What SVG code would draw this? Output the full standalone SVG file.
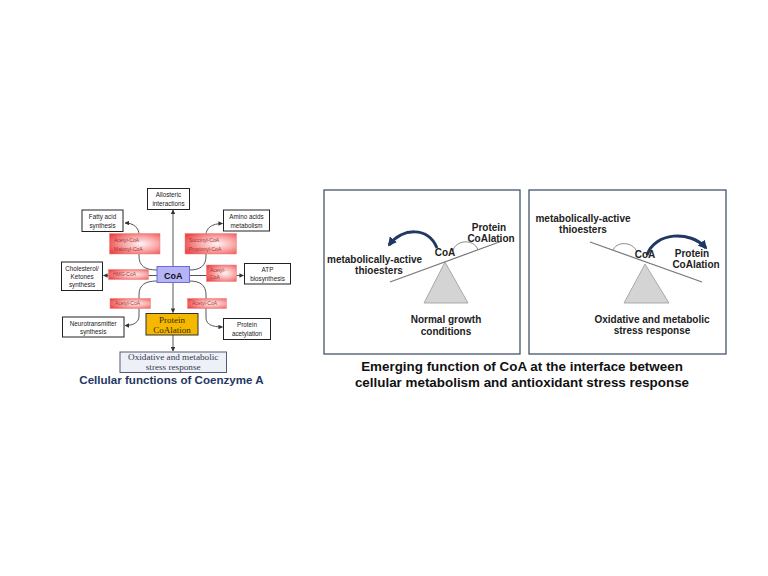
<svg xmlns="http://www.w3.org/2000/svg" width="768" height="576" viewBox="0 0 768 576">
<defs>
<radialGradient id="redg" cx="0.62" cy="0.5" r="0.7">
<stop offset="0" stop-color="#fff4f4"/>
<stop offset="0.5" stop-color="#f9a4a4"/>
<stop offset="1" stop-color="#ee4646"/>
</radialGradient>
<marker id="ah" viewBox="0 0 10 10" refX="9" refY="5" markerWidth="5" markerHeight="5" orient="auto-start-reverse">
<path d="M0,0 L10,5 L0,10 z" fill="#333"/>
</marker>
<marker id="bh" viewBox="0 0 10 10" refX="8" refY="5" markerWidth="3" markerHeight="3" orient="auto">
<path d="M0,0 L10,5 L0,10 z" fill="#1f3864"/>
</marker>
</defs>
<style>
.wb{fill:#fff;stroke:#222;stroke-width:1}
.wt{font-family:"Liberation Sans",Arial,sans-serif;font-size:6.3px;fill:#222;text-anchor:middle}
.rb{fill:url(#redg);stroke:#f08080;stroke-width:0.5}
.rt{font-family:"Liberation Sans",Arial,sans-serif;font-size:5px;fill:#a03838}
.ln{fill:none;stroke:#444;stroke-width:0.9}
.pan{fill:#fff;stroke:#44546a;stroke-width:1.3}
.pt{font-family:"Liberation Sans",Arial,sans-serif;font-size:10px;font-weight:bold;fill:#222}
.ptc{font-family:"Liberation Sans",Arial,sans-serif;font-size:10px;font-weight:bold;fill:#222;text-anchor:middle}
.beam{stroke:#777;stroke-width:1.2}
.tri{fill:#d4d4d4;stroke:#999;stroke-width:0.8}
.garc{fill:none;stroke:#888;stroke-width:1}
.barc{fill:none;stroke:#1f3864;stroke-width:3}
.title{font-family:"Liberation Sans",Arial,sans-serif;font-size:13.4px;font-weight:bold;fill:#111;text-anchor:middle}
.sr{font-family:"Liberation Serif","Times New Roman",serif;text-anchor:middle}
</style>
<rect width="768" height="576" fill="#fff"/>

<!-- Connectors (left diagram) -->
<g id="connectors">
<line class="ln" x1="173" y1="266.5" x2="173" y2="210" marker-end="url(#ah)"/>
<line class="ln" x1="173" y1="282.5" x2="173" y2="312.5" marker-end="url(#ah)"/>
<line class="ln" x1="173" y1="335" x2="173" y2="351" marker-end="url(#ah)"/>
<path class="ln" d="M157,270 C145,270 139,266 139,256 L139,235 C139,228 134,223 125,223" marker-end="url(#ah)"/>
<path class="ln" d="M189.5,270 C200,270 206,266 206,256 L206,235 C206,228 212,223.5 222.5,223.5" marker-end="url(#ah)"/>
<line class="ln" x1="157" y1="275.5" x2="103.5" y2="275.5" marker-end="url(#ah)"/>
<line class="ln" x1="189.5" y1="275.5" x2="243.5" y2="275.5" marker-end="url(#ah)"/>
<path class="ln" d="M157,281 C145,281 139,285 139,295 L139,316 C139,322 134,325.5 125,325.5" marker-end="url(#ah)"/>
<path class="ln" d="M189.5,281 C200,281 206,285 206,295 L206,318 C206,324 212,327 222.5,327" marker-end="url(#ah)"/>
</g>

<g id="allosteric"><rect class="wb" x="147.5" y="188.5" width="42" height="21"/><text class="wt" x="168.5" y="197">Allosteric</text><text class="wt" x="168.5" y="205.5">interactions</text></g>
<g id="fatty"><rect class="wb" x="82" y="210" width="41" height="21.5"/><text class="wt" x="102.5" y="219">Fatty acid</text><text class="wt" x="102.5" y="227.5">synthesis</text></g>
<g id="amino"><rect class="wb" x="223.5" y="210" width="46" height="21"/><text class="wt" x="246.5" y="219">Amino acids</text><text class="wt" x="246.5" y="227.5">metabolism</text></g>
<g id="acmal"><rect class="rb" x="109.5" y="233.5" width="50.5" height="20.5"/><text class="rt" x="114" y="242">Acetyl-CoA</text><text class="rt" x="114" y="250.5">Malonyl-CoA</text></g>
<g id="sucprop"><rect class="rb" x="185" y="233.5" width="51.5" height="20.5"/><text class="rt" x="189" y="242">Succinyl-CoA</text><text class="rt" x="189" y="250.5">Propionyl-CoA</text></g>
<g id="chol"><rect class="wb" x="61.5" y="262" width="41" height="28.5"/><text class="wt" x="82" y="270.5">Cholesterol/</text><text class="wt" x="82" y="278.5">Ketones</text><text class="wt" x="82" y="286.5">synthesis</text></g>
<g id="hmg"><rect class="rb" x="108.5" y="269.5" width="40" height="10"/><text class="rt" x="113" y="276.3">HMG-CoA</text></g>
<g id="coa"><rect x="157" y="266.5" width="32.5" height="16" fill="#b4b4f6" stroke="#6a6ade" stroke-width="1"/><text x="173.2" y="278.5" font-family="Liberation Sans,Arial,sans-serif" font-size="9" font-weight="bold" text-anchor="middle" fill="#111">CoA</text></g>
<g id="acatp"><rect class="rb" x="206.5" y="265" width="30" height="16.5"/><text class="rt" x="210" y="272">Acetyl-</text><text class="rt" x="210" y="279">CoA</text></g>
<g id="atp"><rect class="wb" x="244.5" y="263.5" width="46" height="20.5"/><text class="wt" x="267.5" y="272">ATP</text><text class="wt" x="267.5" y="280.5">biosynthesis</text></g>
<g id="acl"><rect class="rb" x="110" y="298.5" width="40.5" height="10"/><text class="rt" x="115" y="305.3">Acetyl-CoA</text></g>
<g id="acr"><rect class="rb" x="187.5" y="298.5" width="39" height="10"/><text class="rt" x="192" y="305.3">Acetyl-CoA</text></g>
<g id="pcoal"><rect x="146" y="313.5" width="52" height="21.5" fill="#f4b800" stroke="#333" stroke-width="1"/><text class="sr" x="172" y="323" font-size="9" fill="#3a2a00">Protein</text><text class="sr" x="172" y="332.5" font-size="9" fill="#3a2a00">CoAlation</text></g>
<g id="neuro"><rect class="wb" x="62.5" y="317" width="61.5" height="20"/><text class="wt" x="93.2" y="325.5">Neurotransmitter</text><text class="wt" x="93.2" y="333.8">synthesis</text></g>
<g id="pacet"><rect class="wb" x="223.5" y="318.5" width="47" height="21"/><text class="wt" x="247" y="327">Protein</text><text class="wt" x="247" y="335.5">acetylation</text></g>
<g id="oxid"><rect x="120" y="352" width="106.5" height="20.5" fill="#eef0f8" stroke="#555a70" stroke-width="1"/><text class="sr" x="173.2" y="360" font-size="9.2" fill="#333a50">Oxidative and metabolic</text><text class="sr" x="173.2" y="370" font-size="9.2" fill="#333a50">stress response</text></g>
<text x="171.5" y="384" font-family="Liberation Sans,Arial,sans-serif" font-size="11.6" font-weight="bold" text-anchor="middle" fill="#1f3864">Cellular functions of Coenzyme A</text>

<!-- Panel 1 -->
<g id="panel1">
<rect class="pan" x="324" y="190" width="196" height="164"/>
<polygon class="tri" points="445,262 424,303 468,303"/>
<line class="beam" x1="390" y1="282" x2="502" y2="241"/>
<path class="garc" d="M453,251 C455,240 474,238 478,250"/>
<path class="barc" d="M437,248 C428,226 402,228 389,245" marker-end="url(#bh)"/>
<text class="ptc" x="445" y="256">CoA</text>
<text class="pt" x="327" y="263">metabolically-active</text>
<text class="ptc" x="379" y="274">thioesters</text>
<text class="ptc" x="489" y="231">Protein</text>
<text class="ptc" x="491" y="242">CoAlation</text>
<text class="ptc" x="446" y="323">Normal growth</text>
<text class="ptc" x="446" y="335">conditions</text>
</g>

<!-- Panel 2 -->
<g id="panel2">
<rect class="pan" x="529" y="190" width="197" height="164"/>
<polygon class="tri" points="645,264 624,303 669,303"/>
<line class="beam" x1="590" y1="242" x2="702" y2="282"/>
<path class="garc" d="M613,251 C615,241 633,241 637,252"/>
<path class="barc" d="M647,255 C655,232 690,230 706,248" marker-end="url(#bh)"/>
<text class="ptc" x="645" y="258">CoA</text>
<text class="ptc" x="583" y="222">metabolically-active</text>
<text class="ptc" x="583" y="233">thioesters</text>
<text class="ptc" x="692" y="257">Protein</text>
<text class="ptc" x="696" y="268">CoAlation</text>
<text class="ptc" x="652" y="323">Oxidative and metabolic</text>
<text class="ptc" x="652" y="334">stress response</text>
</g>

<text class="title" x="522" y="371">Emerging function of CoA at the interface between</text>
<text class="title" x="522" y="387">cellular metabolism and antioxidant stress response</text>
</svg>
